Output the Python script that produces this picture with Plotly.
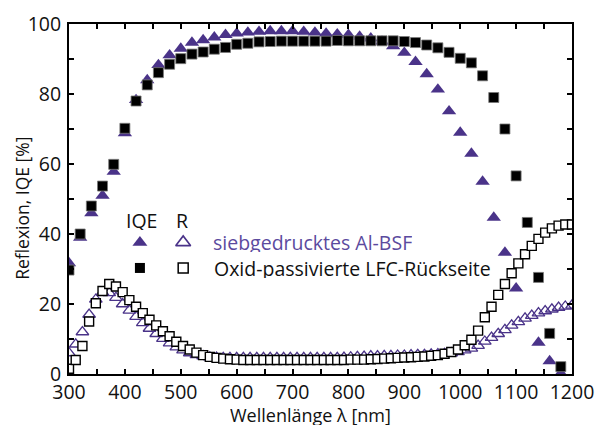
import plotly.graph_objects as go

# ---- data ----
wl_iqe = [300, 320, 340, 360, 380, 400, 420, 440, 460, 480, 500, 520, 540, 560, 580,
          600, 620, 640, 660, 680, 700, 720, 740, 760, 780, 800, 820, 840, 860, 880,
          900, 920, 940, 960, 980, 1000, 1020, 1040, 1060, 1080, 1100, 1120, 1140, 1160, 1180]

iqe_albsf = [31.7, 39.0, 46.0, 51.0, 57.8, 68.8, 78.3, 84.0, 88.3, 91.1, 93.0, 94.7, 95.4, 96.2, 96.9,
             97.3, 97.6, 97.8, 98.0, 98.0, 98.0, 97.8, 97.6, 97.3, 97.1, 96.9, 96.4, 95.9, 95.0, 93.7,
             91.8, 89.2, 85.7, 81.3, 75.1, 69.0, 63.0, 55.0, 44.7, 34.7, 24.5, None, 9.0, 3.7, 0.2]

iqe_lfc = [29.7, 40.0, 48.0, 53.7, 59.9, 70.2, 78.0, 82.6, 86.1, 88.5, 90.1, 91.4, 92.0, 92.8, 93.3,
           94.2, 94.5, 94.9, 95.0, 95.1, 95.1, 95.1, 95.1, 95.1, 95.3, 95.2, 95.2, 95.2, 95.2, 95.2,
           95.0, 94.7, 94.0, 93.2, 91.9, 90.2, 88.9, 85.2, 79.0, 70.0, 56.6, 43.3, 27.6, 11.6, 2.1]

wl_r = [300, 312, 324, 336, 348, 360, 372, 384, 396, 408,
        420, 432, 444, 456, 468, 480, 492, 504, 516, 528,
        540, 552, 564, 576, 588, 600, 612, 624, 636, 648,
        660, 672, 684, 696, 708, 720, 732, 744, 756, 768,
        780, 792, 804, 816, 828, 840, 852, 864, 876, 888,
        900, 912, 924, 936, 948, 960, 972, 984, 996, 1008,
        1020, 1032, 1044, 1056, 1068, 1080, 1092, 1104, 1116, 1128,
        1140, 1152, 1164, 1176, 1188, 1200]

r_albsf = [6.0, 8.5, 12.0, 17.0, 21.3, 23.3, 23.2, 21.8, 20.0, 18.2,
           16.4, 14.6, 13.0, 11.5, 10.1, 8.8, 7.7, 6.8, 6.0, 5.5,
           5.1, 4.8, 4.7, 4.6, 4.6, 4.6, 4.6, 4.6, 4.6, 4.6,
           4.6, 4.6, 4.6, 4.6, 4.6, 4.6, 4.6, 4.6, 4.6, 4.6,
           4.6, 4.7, 4.8, 4.9, 5.0, 5.1, 5.1, 5.2, 5.2, 5.3,
           5.3, 5.4, 5.5, 5.5, 5.6, 5.7, 5.8, 6.0, 6.3, 6.8,
           7.3, 8.1, 9.3, 10.4, 11.5, 12.6, 13.9, 14.9, 15.9, 16.7,
           17.4, 18.0, 18.5, 19.0, 19.3, 19.6]

r_lfc = [1.5, 4.0, 8.0, 15.0, 20.2, 23.7, 25.7, 25.0, 23.4, 21.1,
         19.2, 17.4, 15.5, 13.9, 12.2, 10.8, 9.2, 8.0, 7.0, 6.1,
         5.4, 4.9, 4.6, 4.4, 4.2, 4.1, 4.0, 4.0, 4.0, 4.0,
         4.0, 4.0, 4.0, 4.0, 4.0, 4.0, 4.0, 4.0, 4.0, 4.0,
         4.0, 4.0, 4.1, 4.1, 4.1, 4.2, 4.3, 4.4, 4.5, 4.6,
         4.7, 4.8, 4.9, 5.0, 5.2, 5.4, 5.8, 6.3, 7.0, 8.2,
         9.8, 12.4, 16.2, 19.2, 22.6, 25.7, 28.8, 31.6, 34.2, 36.6,
         38.6, 40.4, 41.6, 42.4, 42.7, 42.7]

x_ticks = [300, 400, 500, 600, 700, 800, 900, 1000, 1100, 1200]
y_ticks = [0, 20, 40, 60, 80, 100]

x_title = "Wellenlänge λ [nm]"
y_title = "Reflexion, IQE [%]"
legend_header = ["IQE", "R"]
legend_labels = ["siebgedrucktes Al-BSF", "Oxid-passivierte LFC-Rückseite"]

# ---- style ----
PURPLE = "#4a3389"
PURPLE_TXT = "#5b4a9e"
FONT = "Open Sans"
FS_TICK = 19.5
FS_LEG = 19.5
FS_TITLE = 18

fig = go.Figure()

fig.add_trace(go.Scatter(x=wl_r, y=r_albsf, mode="markers",
                         marker=dict(symbol="triangle-up-open", size=11, color=PURPLE,
                                     line=dict(width=1.3, color=PURPLE))))
fig.add_trace(go.Scatter(x=wl_r, y=r_lfc, mode="markers",
                         marker=dict(symbol="square", size=9, color="white",
                                     line=dict(width=1.4, color="black"))))
fig.add_trace(go.Scatter(x=wl_iqe, y=iqe_albsf, mode="markers",
                         marker=dict(symbol="triangle-up", size=12.5, color=PURPLE,
                                     line=dict(width=0))))
fig.add_trace(go.Scatter(x=wl_iqe, y=iqe_lfc, mode="markers",
                         marker=dict(symbol="square", size=10, color="black",
                                     line=dict(width=0.8, color="#777"))))

# legend symbols on an overlay axis spanning [0,1]
leg_x = [0.141, 0.227]
leg_y = [0.376, 0.303]
fig.add_trace(go.Scatter(x=[leg_x[0]], y=[leg_y[0]], xaxis="x2", yaxis="y2", mode="markers",
                         marker=dict(symbol="triangle-up", size=13, color=PURPLE)))
fig.add_trace(go.Scatter(x=[leg_x[1]], y=[leg_y[0]], xaxis="x2", yaxis="y2", mode="markers",
                         marker=dict(symbol="triangle-up-open", size=13, color=PURPLE,
                                     line=dict(width=1.6, color=PURPLE))))
fig.add_trace(go.Scatter(x=[leg_x[0]], y=[leg_y[1]], xaxis="x2", yaxis="y2", mode="markers",
                         marker=dict(symbol="square", size=10, color="black")))
fig.add_trace(go.Scatter(x=[leg_x[1]], y=[leg_y[1]], xaxis="x2", yaxis="y2", mode="markers",
                         marker=dict(symbol="square", size=10, color="white",
                                     line=dict(width=1.5, color="black"))))

fig.add_annotation(x=leg_x[0] + 0.004, y=0.44, xref="paper", yref="paper", text=legend_header[0],
                   xanchor="center", yanchor="middle",
                   showarrow=False, height=20, font=dict(family=FONT, size=FS_LEG, color="#111"))
fig.add_annotation(x=leg_x[1] - 0.002, y=0.44, xref="paper", yref="paper", text=legend_header[1],
                   xanchor="center", yanchor="middle",
                   showarrow=False, height=20, font=dict(family=FONT, size=FS_LEG, color="#111"))
fig.add_annotation(x=0.282, y=leg_y[0], xref="paper", yref="paper", text=legend_labels[0],
                   xanchor="left", yanchor="middle", showarrow=False, height=20,
                   font=dict(family=FONT, size=FS_LEG, color=PURPLE_TXT))
fig.add_annotation(x=0.284, y=leg_y[1], xref="paper", yref="paper", text=legend_labels[1],
                   xanchor="left", yanchor="middle", showarrow=False, height=20,
                   font=dict(family=FONT, size=FS_LEG, color="#111"))

# axis titles
fig.add_annotation(x=0.48, y=-0.117, xref="paper", yref="paper", text=x_title,
                   xanchor="center", yanchor="middle",
                   showarrow=False, height=20, font=dict(family=FONT, size=FS_TITLE, color="#111"))
fig.add_annotation(x=-0.094, y=0.474, xref="paper", yref="paper", text=y_title, textangle=-90,
                   xanchor="center", yanchor="middle",
                   showarrow=False, font=dict(family=FONT, size=17.5, color="#111"))

axis_common = dict(showline=True, linecolor="black", linewidth=2, mirror="allticks",
                   ticks="inside", ticklen=5, tickwidth=1.5, tickcolor="black",
                   showgrid=False, zeroline=False, automargin=False,
                   tickfont=dict(family=FONT, size=FS_TICK, color="#111"))

fig.update_layout(
    width=600, height=428,
    margin=dict(l=69, r=28, t=24, b=54),
    paper_bgcolor="white", plot_bgcolor="white",
    showlegend=False,
    font=dict(family=FONT, size=FS_TITLE, color="#111"),
    xaxis=dict(range=[300, 1200], tickvals=x_ticks, ticktext=[str(v) for v in x_ticks],
               minor=dict(dtick=50, ticks="inside", ticklen=5, tickwidth=1.5, tickcolor="black"),
               ticklabelstandoff=0,
               **axis_common),
    yaxis=dict(range=[0, 100], tickvals=y_ticks, ticktext=[str(v) for v in y_ticks],
               minor=dict(dtick=10, ticks="inside", ticklen=5, tickwidth=1.5, tickcolor="black"),
               ticklabelstandoff=2,
               **axis_common),
    xaxis2=dict(range=[0, 1], overlaying="x", visible=False),
    yaxis2=dict(range=[0, 1], overlaying="y", visible=False),
)

fig.write_html("out.html", config={"displayModeBar": False},
               post_script="document.body.style.margin='0';document.body.style.overflow='hidden';")
